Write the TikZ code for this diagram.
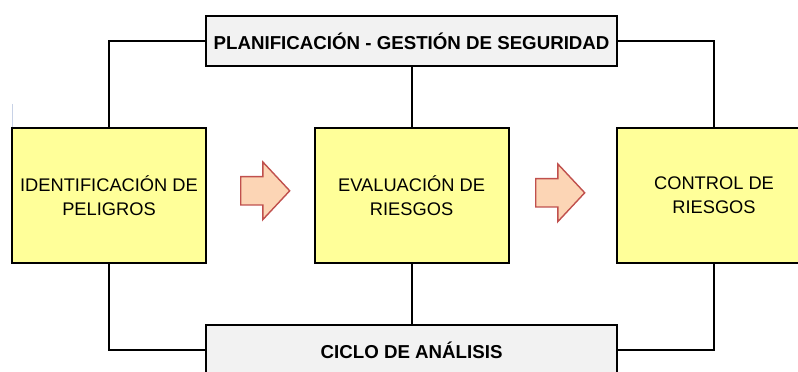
\documentclass[tikz,border=0pt]{standalone}
\usepackage{fontspec}
\setmainfont{Liberation Sans}
\usetikzlibrary{shapes.arrows}
\definecolor{amarillo}{HTML}{FFFF99}
\definecolor{grisclaro}{HTML}{F2F2F2}
\definecolor{salmon}{HTML}{FCD5B5}
\definecolor{rojizo}{HTML}{C0504D}
\definecolor{azulado}{HTML}{C8D2E6}

\begin{document}
\begin{tikzpicture}[
  etapa/.style={draw, line width=1.3pt, fill=amarillo, minimum width=4.85cm, minimum height=3.375cm, align=center, font=\fontsize{13}{17.1}\selectfont},
  marco/.style={draw, line width=1.3pt, fill=grisclaro, minimum width=10.275cm, minimum height=1.25cm, font=\fontsize{13.3}{16}\selectfont\bfseries},
  flecha/.style={single arrow, draw=rojizo, fill=salmon, line width=1pt, anchor=west, inner xsep=0pt, inner ysep=0.3375cm, single arrow head extend=0.3625cm, minimum height=1.225cm, single arrow tip angle=94},
  linea/.style={line width=1.3pt}
]
\useasboundingbox (0,0) rectangle (19.95,9.3);
\clip (0,0) rectangle (19.95,9.3);
\draw[azulado, line width=0.6pt] (0.3,6.7) -- (0.3,6.1);
\node[marco] (plan) at (10.29,8.275) {PLANIFICACIÓN - GESTIÓN DE SEGURIDAD};
\node[marco] (ciclo) at (10.29,0.55) {CICLO DE ANÁLISIS};
\node[etapa] (ident) at (2.725,4.41) {IDENTIFICACIÓN DE\\PELIGROS};
\node[etapa] (eval) at (10.29,4.41) {EVALUACIÓN DE\\RIESGOS};
\node[etapa] (control) at (17.85,4.41) {CONTROL DE\\RIESGOS};
\node[flecha] (f1) at (6.0,4.53) {};
\node[flecha] (f2) at (13.375,4.48) {};
\draw[linea] (plan.west) -| (ident.north);
\draw[linea] (plan.east) -| (control.north);
\draw[linea] (plan.south) -- (eval.north);
\draw[linea] (ident.south) |- (ciclo.west);
\draw[linea] (control.south) |- (ciclo.east);
\draw[linea] (eval.south) -- (ciclo.north);
\end{tikzpicture}
\end{document}
